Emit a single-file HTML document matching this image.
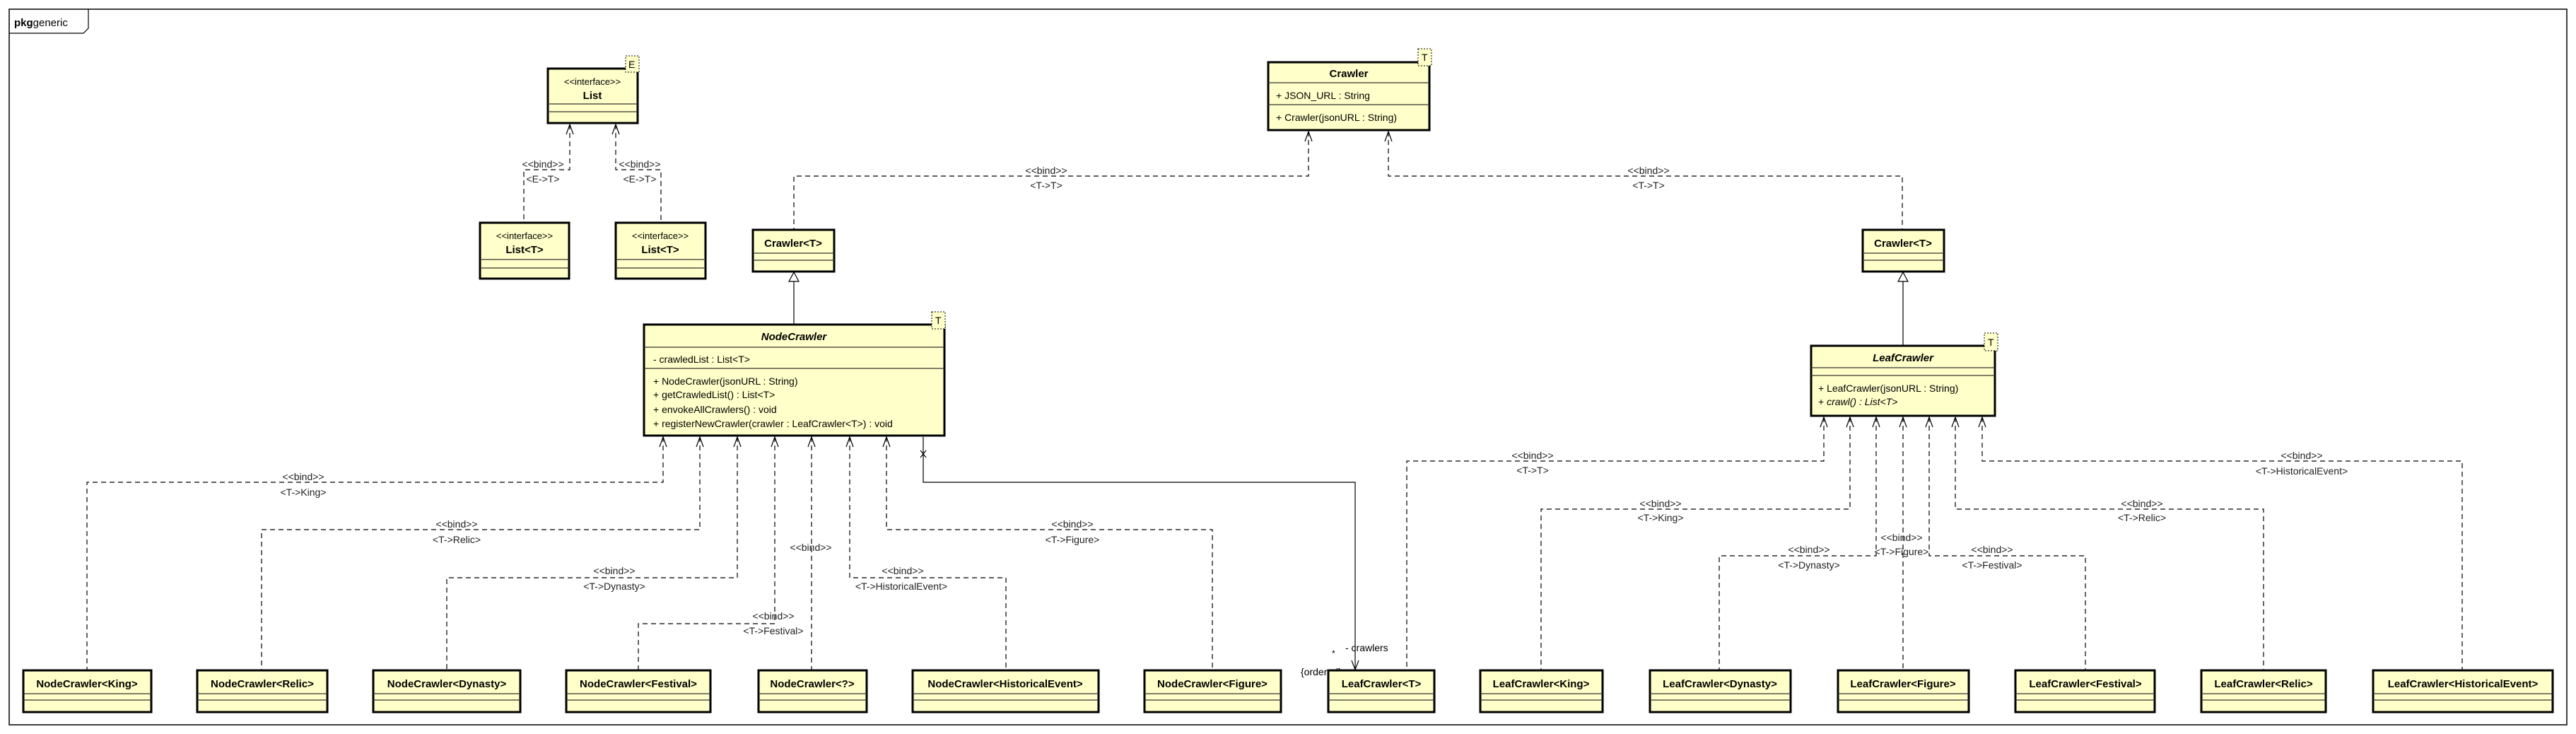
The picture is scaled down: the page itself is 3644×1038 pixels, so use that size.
<!DOCTYPE html>
<html><head><meta charset="utf-8"><style>
html,body{margin:0;padding:0;background:#fff;}
svg{display:block;}
text{font-family:"Liberation Sans",Arial,sans-serif;fill:#000;}
.lb{font-size:14px;text-anchor:middle;fill:#222;}
.nm{font-size:15px;font-weight:bold;text-anchor:middle;}
.mb{font-size:14px;}
.st{font-size:13px;text-anchor:middle;}
.box{fill:#FFFFC9;stroke:#000;stroke-width:3;}
.sep{stroke:#333;stroke-width:1.2;}
.dash{fill:none;stroke:#000;stroke-width:1.2;stroke-dasharray:7 5;}
.sol{fill:none;stroke:#000;stroke-width:1.2;}
.ar{fill:none;stroke:#000;stroke-width:1.2;}
.badge{fill:#FFFFC9;stroke:#000;stroke-width:1;stroke-dasharray:2 2;}
</style></head><body>
<svg width="3644" height="1038" viewBox="0 0 3644 1038" xmlns="http://www.w3.org/2000/svg">
<rect x="0" y="0" width="3644" height="1038" fill="#fff"/>
<!-- frame -->
<rect x="13" y="13" width="3618" height="1012" fill="none" stroke="#000" stroke-width="1.5"/>
<path d="M13,47 H118 L125,40 V13" fill="none" stroke="#000" stroke-width="1.2"/>
<text x="20" y="37" style="font-size:15px"><tspan font-weight="bold">pkg</tspan>generic</text>

<!-- ===== connectors ===== -->
<!-- List binds -->
<path class="dash" d="M806,176 V240 H741 V315"/>
<path class="dash" d="M871,176 V240 H935 V315"/>
<text class="lb" x="768" y="237">&lt;&lt;bind&gt;&gt;</text>
<text class="lb" x="768" y="258">&lt;E-&gt;T&gt;</text>
<text class="lb" x="905" y="237">&lt;&lt;bind&gt;&gt;</text>
<text class="lb" x="905" y="258">&lt;E-&gt;T&gt;</text>
<!-- Crawler binds -->
<path class="dash" d="M1851,186 V249 H1123 V325"/>
<path class="dash" d="M1964,186 V249 H2691 V325"/>
<text class="lb" x="1480" y="246">&lt;&lt;bind&gt;&gt;</text>
<text class="lb" x="1480" y="267">&lt;T-&gt;T&gt;</text>
<text class="lb" x="2332" y="246">&lt;&lt;bind&gt;&gt;</text>
<text class="lb" x="2332" y="267">&lt;T-&gt;T&gt;</text>
<!-- generalization -->
<path class="sol" d="M1123,398 V458"/>
<path d="M1123,385 L1116,398 H1130 Z" fill="#fff" stroke="#000" stroke-width="1.2"/>
<path class="sol" d="M2692,398 V488"/>
<path d="M2692,385 L2685,398 H2699 Z" fill="#fff" stroke="#000" stroke-width="1.2"/>

<!-- NodeCrawler binds -->
<path class="dash" d="M938,618 V682 H123 V948"/>
<path class="dash" d="M990,618 V749 H370 V948"/>
<path class="dash" d="M1043,618 V817 H632 V948"/>
<path class="dash" d="M1096,618 V882 H903 V948"/>
<path class="dash" d="M1148,618 V948"/>
<path class="dash" d="M1202,618 V817 H1423 V948"/>
<path class="dash" d="M1254,618 V749 H1715 V948"/>
<text class="lb" x="429" y="679">&lt;&lt;bind&gt;&gt;</text>
<text class="lb" x="429" y="701">&lt;T-&gt;King&gt;</text>
<text class="lb" x="646" y="746">&lt;&lt;bind&gt;&gt;</text>
<text class="lb" x="646" y="768">&lt;T-&gt;Relic&gt;</text>
<text class="lb" x="869" y="812">&lt;&lt;bind&gt;&gt;</text>
<text class="lb" x="869" y="834">&lt;T-&gt;Dynasty&gt;</text>
<text class="lb" x="1094" y="876">&lt;&lt;bind&gt;&gt;</text>
<text class="lb" x="1094" y="897">&lt;T-&gt;Festival&gt;</text>
<text class="lb" x="1147" y="779">&lt;&lt;bind&gt;&gt;</text>
<text class="lb" x="1277" y="812">&lt;&lt;bind&gt;&gt;</text>
<text class="lb" x="1275" y="834">&lt;T-&gt;HistoricalEvent&gt;</text>
<text class="lb" x="1517" y="746">&lt;&lt;bind&gt;&gt;</text>
<text class="lb" x="1517" y="768">&lt;T-&gt;Figure&gt;</text>
<!-- composition -->
<path class="sol" d="M1306,618 V682 H1917 V947"/>
<path class="ar" d="M1302,637 L1310,647 M1310,637 L1302,647"/>
<path class="ar" d="M1912,934 L1917,947 L1922,934"/>
<text x="1903" y="921" style="font-size:14px">- crawlers</text>
<text x="1884" y="928" style="font-size:12px">*</text>
<text x="1840" y="955" style="font-size:14px">{ordered}</text>

<!-- LeafCrawler binds -->
<path class="dash" d="M2580,590 V652 H1990 V948"/>
<path class="dash" d="M2617,590 V720 H2180 V948"/>
<path class="dash" d="M2654,590 V786 H2432 V948"/>
<path class="dash" d="M2692,590 V948"/>
<path class="dash" d="M2729,590 V786 H2950 V948"/>
<path class="dash" d="M2766,590 V720 H3202 V948"/>
<path class="dash" d="M2804,590 V652 H3483 V948"/>
<text class="lb" x="2168" y="649">&lt;&lt;bind&gt;&gt;</text>
<text class="lb" x="2168" y="670">&lt;T-&gt;T&gt;</text>
<text class="lb" x="2349" y="717">&lt;&lt;bind&gt;&gt;</text>
<text class="lb" x="2349" y="737">&lt;T-&gt;King&gt;</text>
<text class="lb" x="2559" y="782">&lt;&lt;bind&gt;&gt;</text>
<text class="lb" x="2559" y="804">&lt;T-&gt;Dynasty&gt;</text>
<text class="lb" x="2690" y="765">&lt;&lt;bind&gt;&gt;</text>
<text class="lb" x="2690" y="785">&lt;T-&gt;Figure&gt;</text>
<text class="lb" x="2818" y="782">&lt;&lt;bind&gt;&gt;</text>
<text class="lb" x="2818" y="804">&lt;T-&gt;Festival&gt;</text>
<text class="lb" x="3030" y="717">&lt;&lt;bind&gt;&gt;</text>
<text class="lb" x="3030" y="737">&lt;T-&gt;Relic&gt;</text>
<text class="lb" x="3256" y="649">&lt;&lt;bind&gt;&gt;</text>
<text class="lb" x="3256" y="671">&lt;T-&gt;HistoricalEvent&gt;</text>

<!-- arrowheads (open, pointing up) -->
<g class="ar">
<path d="M801,190 L806,176 L811,190"/><path d="M866,190 L871,176 L876,190"/>
<path d="M1846,200 L1851,186 L1856,200"/><path d="M1959,200 L1964,186 L1969,200"/>
<path d="M933,632 L938,618 L943,632"/><path d="M985,632 L990,618 L995,632"/>
<path d="M1038,632 L1043,618 L1048,632"/><path d="M1091,632 L1096,618 L1101,632"/>
<path d="M1143,632 L1148,618 L1153,632"/><path d="M1197,632 L1202,618 L1207,632"/>
<path d="M1249,632 L1254,618 L1259,632"/>
<path d="M2575,604 L2580,590 L2585,604"/><path d="M2612,604 L2617,590 L2622,604"/>
<path d="M2649,604 L2654,590 L2659,604"/><path d="M2687,604 L2692,590 L2697,604"/>
<path d="M2724,604 L2729,590 L2734,604"/><path d="M2761,604 L2766,590 L2771,604"/>
<path d="M2799,604 L2804,590 L2809,604"/>
</g>

<!-- ===== boxes ===== -->
<!-- List -->
<rect class="box" x="775" y="97" width="127" height="77"/>
<line class="sep" x1="775" y1="147" x2="902" y2="147"/><line class="sep" x1="775" y1="158" x2="902" y2="158"/>
<text class="st" x="838" y="120">&lt;&lt;interface&gt;&gt;</text>
<text class="nm" x="838" y="140">List</text>
<rect class="badge" x="885" y="79" width="19" height="23"/>
<text x="889" y="96" style="font-size:14px">E</text>

<rect class="box" x="679" y="315" width="126" height="79"/>
<line class="sep" x1="679" y1="367" x2="805" y2="367"/><line class="sep" x1="679" y1="379" x2="805" y2="379"/>
<text class="st" x="742" y="338">&lt;&lt;interface&gt;&gt;</text>
<text class="nm" x="742" y="358">List&lt;T&gt;</text>

<rect class="box" x="871" y="315" width="127" height="79"/>
<line class="sep" x1="871" y1="367" x2="998" y2="367"/><line class="sep" x1="871" y1="379" x2="998" y2="379"/>
<text class="st" x="934" y="338">&lt;&lt;interface&gt;&gt;</text>
<text class="nm" x="934" y="358">List&lt;T&gt;</text>

<!-- Crawler -->
<rect class="box" x="1794" y="88" width="228" height="96"/>
<line class="sep" x1="1794" y1="117" x2="2022" y2="117"/><line class="sep" x1="1794" y1="148" x2="2022" y2="148"/>
<text class="nm" x="1908" y="109">Crawler</text>
<text class="mb" x="1805" y="140">+ JSON_URL : String</text>
<text class="mb" x="1805" y="171">+ Crawler(jsonURL : String)</text>
<rect class="badge" x="2006" y="69" width="19" height="24"/>
<text x="2011" y="86" style="font-size:14px">T</text>

<!-- Crawler<T> left/right -->
<rect class="box" x="1065" y="325" width="115" height="59"/>
<line class="sep" x1="1065" y1="358" x2="1180" y2="358"/><line class="sep" x1="1065" y1="368" x2="1180" y2="368"/>
<text class="nm" x="1122" y="349">Crawler&lt;T&gt;</text>
<rect class="box" x="2635" y="325" width="115" height="59"/>
<line class="sep" x1="2635" y1="358" x2="2750" y2="358"/><line class="sep" x1="2635" y1="368" x2="2750" y2="368"/>
<text class="nm" x="2692" y="349">Crawler&lt;T&gt;</text>

<!-- NodeCrawler -->
<rect class="box" x="911" y="459" width="425" height="157"/>
<line class="sep" x1="911" y1="491" x2="1336" y2="491"/><line class="sep" x1="911" y1="521" x2="1336" y2="521"/>
<text class="nm" x="1123" y="481" font-style="italic">NodeCrawler</text>
<text class="mb" x="924" y="513">- crawledList : List&lt;T&gt;</text>
<text class="mb" x="924" y="544">+ NodeCrawler(jsonURL : String)</text>
<text class="mb" x="924" y="563">+ getCrawledList() : List&lt;T&gt;</text>
<text class="mb" x="924" y="584">+ envokeAllCrawlers() : void</text>
<text class="mb" x="924" y="604">+ registerNewCrawler(crawler : LeafCrawler&lt;T&gt;) : void</text>
<rect class="badge" x="1318" y="441" width="19" height="24"/>
<text x="1323" y="458" style="font-size:14px">T</text>

<!-- LeafCrawler -->
<rect class="box" x="2562" y="489" width="260" height="99"/>
<line class="sep" x1="2562" y1="520" x2="2822" y2="520"/><line class="sep" x1="2562" y1="531" x2="2822" y2="531"/>
<text class="nm" x="2692" y="511" font-style="italic">LeafCrawler</text>
<text class="mb" x="2572" y="554">+ LeafCrawler(jsonURL : String)</text>
<text class="mb" x="2572" y="573">+ <tspan font-style="italic">crawl() : List&lt;T&gt;</tspan></text>
<rect class="badge" x="2807" y="471" width="19" height="25"/>
<text x="2812" y="489" style="font-size:14px">T</text>

<!-- bottom boxes -->
<g>
<rect class="box" x="33" y="948" width="181" height="59"/><line class="sep" x1="33" y1="981" x2="214" y2="981"/><line class="sep" x1="33" y1="990" x2="214" y2="990"/>
<text class="nm" x="123" y="972">NodeCrawler&lt;King&gt;</text>
<rect class="box" x="279" y="948" width="184" height="59"/><line class="sep" x1="279" y1="981" x2="463" y2="981"/><line class="sep" x1="279" y1="990" x2="463" y2="990"/>
<text class="nm" x="371" y="972">NodeCrawler&lt;Relic&gt;</text>
<rect class="box" x="528" y="948" width="208" height="59"/><line class="sep" x1="528" y1="981" x2="736" y2="981"/><line class="sep" x1="528" y1="990" x2="736" y2="990"/>
<text class="nm" x="632" y="972">NodeCrawler&lt;Dynasty&gt;</text>
<rect class="box" x="801" y="948" width="204" height="59"/><line class="sep" x1="801" y1="981" x2="1005" y2="981"/><line class="sep" x1="801" y1="990" x2="1005" y2="990"/>
<text class="nm" x="903" y="972">NodeCrawler&lt;Festival&gt;</text>
<rect class="box" x="1073" y="948" width="153" height="59"/><line class="sep" x1="1073" y1="981" x2="1226" y2="981"/><line class="sep" x1="1073" y1="990" x2="1226" y2="990"/>
<text class="nm" x="1149" y="972">NodeCrawler&lt;?&gt;</text>
<rect class="box" x="1291" y="948" width="263" height="59"/><line class="sep" x1="1291" y1="981" x2="1554" y2="981"/><line class="sep" x1="1291" y1="990" x2="1554" y2="990"/>
<text class="nm" x="1422" y="972">NodeCrawler&lt;HistoricalEvent&gt;</text>
<rect class="box" x="1619" y="948" width="193" height="59"/><line class="sep" x1="1619" y1="981" x2="1812" y2="981"/><line class="sep" x1="1619" y1="990" x2="1812" y2="990"/>
<text class="nm" x="1715" y="972">NodeCrawler&lt;Figure&gt;</text>
<rect class="box" x="1879" y="948" width="150" height="59"/><line class="sep" x1="1879" y1="981" x2="2029" y2="981"/><line class="sep" x1="1879" y1="990" x2="2029" y2="990"/>
<text class="nm" x="1954" y="972">LeafCrawler&lt;T&gt;</text>
<rect class="box" x="2094" y="948" width="173" height="59"/><line class="sep" x1="2094" y1="981" x2="2267" y2="981"/><line class="sep" x1="2094" y1="990" x2="2267" y2="990"/>
<text class="nm" x="2180" y="972">LeafCrawler&lt;King&gt;</text>
<rect class="box" x="2334" y="948" width="199" height="59"/><line class="sep" x1="2334" y1="981" x2="2533" y2="981"/><line class="sep" x1="2334" y1="990" x2="2533" y2="990"/>
<text class="nm" x="2433" y="972">LeafCrawler&lt;Dynasty&gt;</text>
<rect class="box" x="2600" y="948" width="185" height="59"/><line class="sep" x1="2600" y1="981" x2="2785" y2="981"/><line class="sep" x1="2600" y1="990" x2="2785" y2="990"/>
<text class="nm" x="2692" y="972">LeafCrawler&lt;Figure&gt;</text>
<rect class="box" x="2851" y="948" width="197" height="59"/><line class="sep" x1="2851" y1="981" x2="3048" y2="981"/><line class="sep" x1="2851" y1="990" x2="3048" y2="990"/>
<text class="nm" x="2950" y="972">LeafCrawler&lt;Festival&gt;</text>
<rect class="box" x="3114" y="948" width="176" height="59"/><line class="sep" x1="3114" y1="981" x2="3290" y2="981"/><line class="sep" x1="3114" y1="990" x2="3290" y2="990"/>
<text class="nm" x="3202" y="972">LeafCrawler&lt;Relic&gt;</text>
<rect class="box" x="3357" y="948" width="254" height="59"/><line class="sep" x1="3357" y1="981" x2="3611" y2="981"/><line class="sep" x1="3357" y1="990" x2="3611" y2="990"/>
<text class="nm" x="3484" y="972">LeafCrawler&lt;HistoricalEvent&gt;</text>
</g>
</svg>
</body></html>
